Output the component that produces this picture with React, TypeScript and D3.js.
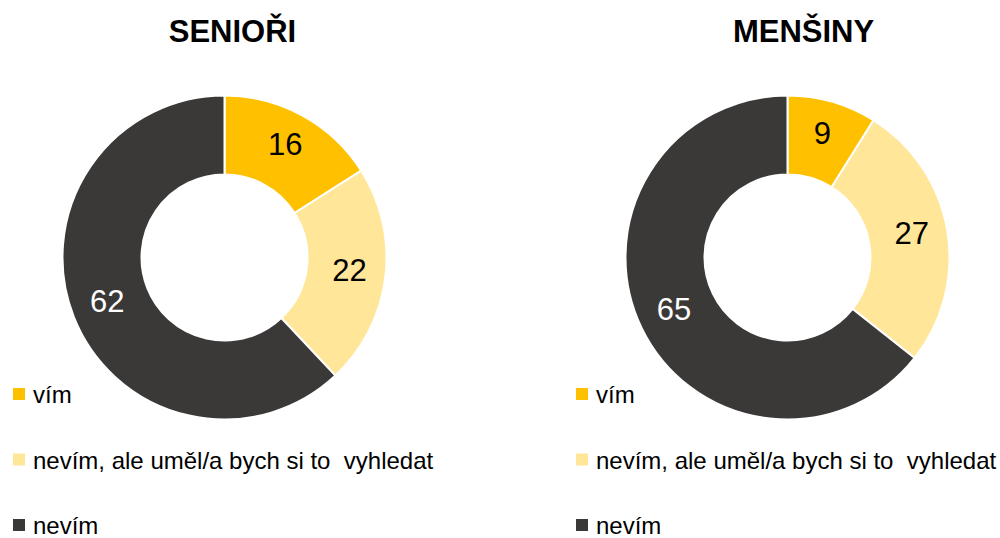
import React from "react";
import * as d3 from "d3";

const categories = ["vím", "nevím, ale uměl/a bych si to  vyhledat", "nevím"];
const colors = ["#FFC000", "#FFE699", "#3B3838"];
const labelColors = ["#000000", "#000000", "#FFFFFF"];
const chartTitles = ["SENIOŘI", "MENŠINY"];
const seniorValues = [16, 22, 62];
const minorityValues = [9, 27, 65];

const W = 1000;
const H = 538;
const FONT = "'Liberation Sans', Arial, Helvetica, sans-serif";

type PanelProps = { title: string; values: number[]; cx: number; legendX: number; titleX: number };

function Panel({ title, values, cx, legendX, titleX }: PanelProps) {
  const cy = 257.5;
  const outer = 162;
  const inner = 83;
  const pie = d3.pie<number>().sort(null).value((d) => d);
  const arcs = pie(values);
  const arc = d3.arc<d3.PieArcDatum<number>>().innerRadius(inner).outerRadius(outer);
  const labelArc = d3.arc<d3.PieArcDatum<number>>().innerRadius(126).outerRadius(126);
  const legendY = d3.scalePoint<string>().domain(categories).range([403, 534]);
  return (
    <g>
      <text x={titleX} y={42} textAnchor="middle" fontFamily={FONT} fontWeight="bold" fontSize={31} fill="#000">
        {title}
      </text>
      <g transform={`translate(${cx},${cy})`}>
        {arcs.map((a, i) => (
          <path key={i} d={arc(a) || ""} fill={colors[i]} stroke="#fff" strokeWidth={2} />
        ))}
        {arcs.map((a, i) => {
          const [x, y] = labelArc.centroid(a);
          return (
            <text key={"l" + i} x={x} y={y} dy="0.26em" textAnchor="middle" fontFamily={FONT} fontSize={31} fill={labelColors[i]}>
              {a.data}
            </text>
          );
        })}
      </g>
      {categories.map((c, i) => {
        const y = legendY(c) as number;
        return (
          <g key={"lg" + i}>
            <rect x={legendX} y={y - 15} width={12} height={12} fill={colors[i]} />
            <text x={legendX + 20} y={y} fontFamily={FONT} fontSize={24} fill="#000" style={{ whiteSpace: "pre" }}>
              {c}
            </text>
          </g>
        );
      })}
    </g>
  );
}

export default function App() {
  return (
    <svg width={W} height={H} style={{ position: "absolute", left: 0, top: 0, background: "#fff" }}>
      <rect x={0} y={0} width={W} height={H} fill="#fff" />
      <Panel title={chartTitles[0]} values={seniorValues} cx={224.5} legendX={13} titleX={232.5} />
      <Panel title={chartTitles[1]} values={minorityValues} cx={787.5} legendX={576} titleX={803.5} />
    </svg>
  );
}
